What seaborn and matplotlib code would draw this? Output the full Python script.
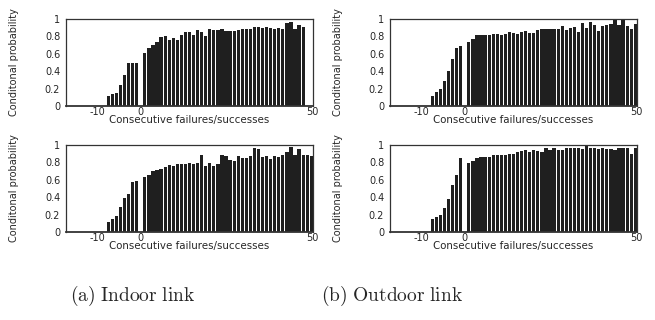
import matplotlib
matplotlib.use("Agg")
import matplotlib.pyplot as plt
import pandas as pd
import seaborn as sns

# ---------------- data ----------------
fail_pos = [-8, -7, -6, -5, -4, -3, -2, -1]

indoor_a_fail = [0.11, 0.14, 0.15, 0.24, 0.36, 0.49, 0.49, 0.49]
indoor_a_succ = [0.61, 0.67, 0.70, 0.74, 0.79, 0.80, 0.76, 0.78, 0.76, 0.81,
                 0.85, 0.85, 0.81, 0.87, 0.85, 0.80, 0.88, 0.87, 0.87, 0.89,
                 0.86, 0.86, 0.86, 0.87, 0.88, 0.88, 0.88, 0.91, 0.91, 0.90,
                 0.91, 0.90, 0.89, 0.90, 0.88, 0.95, 0.97, 0.88, 0.93, 0.91]

indoor_b_fail = [0.11, 0.15, 0.18, 0.29, 0.39, 0.44, 0.57, 0.59]
indoor_b_succ = [0.63, 0.66, 0.70, 0.71, 0.72, 0.75, 0.77, 0.76, 0.78, 0.78,
                 0.78, 0.79, 0.78, 0.79, 0.88, 0.76, 0.79, 0.76, 0.78, 0.89,
                 0.87, 0.83, 0.82, 0.87, 0.85, 0.85, 0.87, 0.97, 0.95, 0.86,
                 0.87, 0.84, 0.87, 0.86, 0.89, 0.92, 0.98, 0.89, 0.95, 0.89,
                 0.89, 0.87]

outdoor_a_fail = [0.115, 0.16, 0.19, 0.29, 0.40, 0.54, 0.67, 0.69]
outdoor_a_succ = [0.73, 0.77, 0.81, 0.82, 0.82, 0.82, 0.83, 0.83, 0.82, 0.83,
                  0.85, 0.84, 0.83, 0.85, 0.86, 0.84, 0.84, 0.87, 0.88, 0.89,
                  0.89, 0.89, 0.88, 0.92, 0.87, 0.90, 0.91, 0.85, 0.95, 0.90,
                  0.96, 0.93, 0.86, 0.92, 0.93, 0.94, 0.99, 0.93, 1.00, 0.92,
                  0.88, 0.94]

outdoor_b_fail = [0.145, 0.175, 0.195, 0.27, 0.375, 0.54, 0.65, 0.855]
outdoor_b_succ = [0.79, 0.82, 0.85, 0.86, 0.86, 0.86, 0.88, 0.89, 0.89, 0.89,
                  0.90, 0.90, 0.92, 0.93, 0.94, 0.92, 0.94, 0.93, 0.92, 0.96,
                  0.94, 0.96, 0.94, 0.94, 0.97, 0.96, 0.97, 0.96, 0.95, 0.99,
                  0.96, 0.97, 0.95, 0.96, 0.95, 0.95, 0.94, 0.96, 0.96, 0.97,
                  0.90, 0.96]

xtick_pos = [-10.8, 0, 42.2]
xtick_labels = ["-10", "0", "50"]
ytick_pos = [0, 0.2, 0.4, 0.6, 0.8, 1.0]
ytick_labels = ["0", "0.2", "0.4", "0.6", "0.8", "1"]

xlabel = "Consecutive failures/successes"
ylabel = "Conditonal probability"
captions = [r"$\mathrm{(a)\ Indoor\ link}$", r"$\mathrm{(b)\ Outdoor\ link}$"]

# ---------------- style ----------------
sns.set_style("white")
plt.rcParams["font.family"] = ["DejaVu Sans"]
plt.rcParams["mathtext.fontset"] = "cm"

fig = plt.figure(figsize=(6.55, 3.2), dpi=100)

W = 0.378
H = 0.272
panels = [
    ([0.1003, 0.6688, W, H], indoor_a_fail, indoor_a_succ),
    ([0.1003, 0.2750, W, H], indoor_b_fail, indoor_b_succ),
    ([0.5950, 0.6688, W, H], outdoor_a_fail, outdoor_a_succ),
    ([0.5950, 0.2750, W, H], outdoor_b_fail, outdoor_b_succ),
]

bar_color = "#1f1f1f"
for rect, f, s in panels:
    ax = fig.add_axes(rect)
    pos = fail_pos + list(range(1, len(s) + 1))
    df = pd.DataFrame({"pos": pos, "p": f + s})
    sns.barplot(data=df, x="pos", y="p", native_scale=True, width=0.8,
                color=bar_color, saturation=1, linewidth=0, errorbar=None, ax=ax)
    ax.set_xlim(-18.5, 42.5)
    ax.set_ylim(0, 1)
    ax.set_xticks(xtick_pos)
    ax.set_xticklabels(xtick_labels, fontsize=7)
    ax.set_yticks(ytick_pos)
    ax.set_yticklabels(ytick_labels, fontsize=7)
    ax.tick_params(axis="both", direction="in", length=4, width=0.8,
                   color="#888888", pad=1.5)
    ax.tick_params(axis="y", pad=4)
    ax.tick_params(axis="x", pad=0.5)
    for sp in ax.spines.values():
        sp.set_visible(True)
        sp.set_color("#333333")
        sp.set_linewidth(0.9)
    ax.spines["bottom"].set_linewidth(1.3)
    ax.set_xlabel(xlabel, fontsize=7.4, labelpad=-1)
    ax.set_ylabel(ylabel, fontsize=7)
    ax.yaxis.set_label_coords(-0.19, 0.5)

fig.text(0.203, 0.075, captions[0], fontsize=14, ha="center", va="center")
fig.text(0.598, 0.075, captions[1], fontsize=14, ha="center", va="center")

fig.savefig("out.png", dpi=100)
